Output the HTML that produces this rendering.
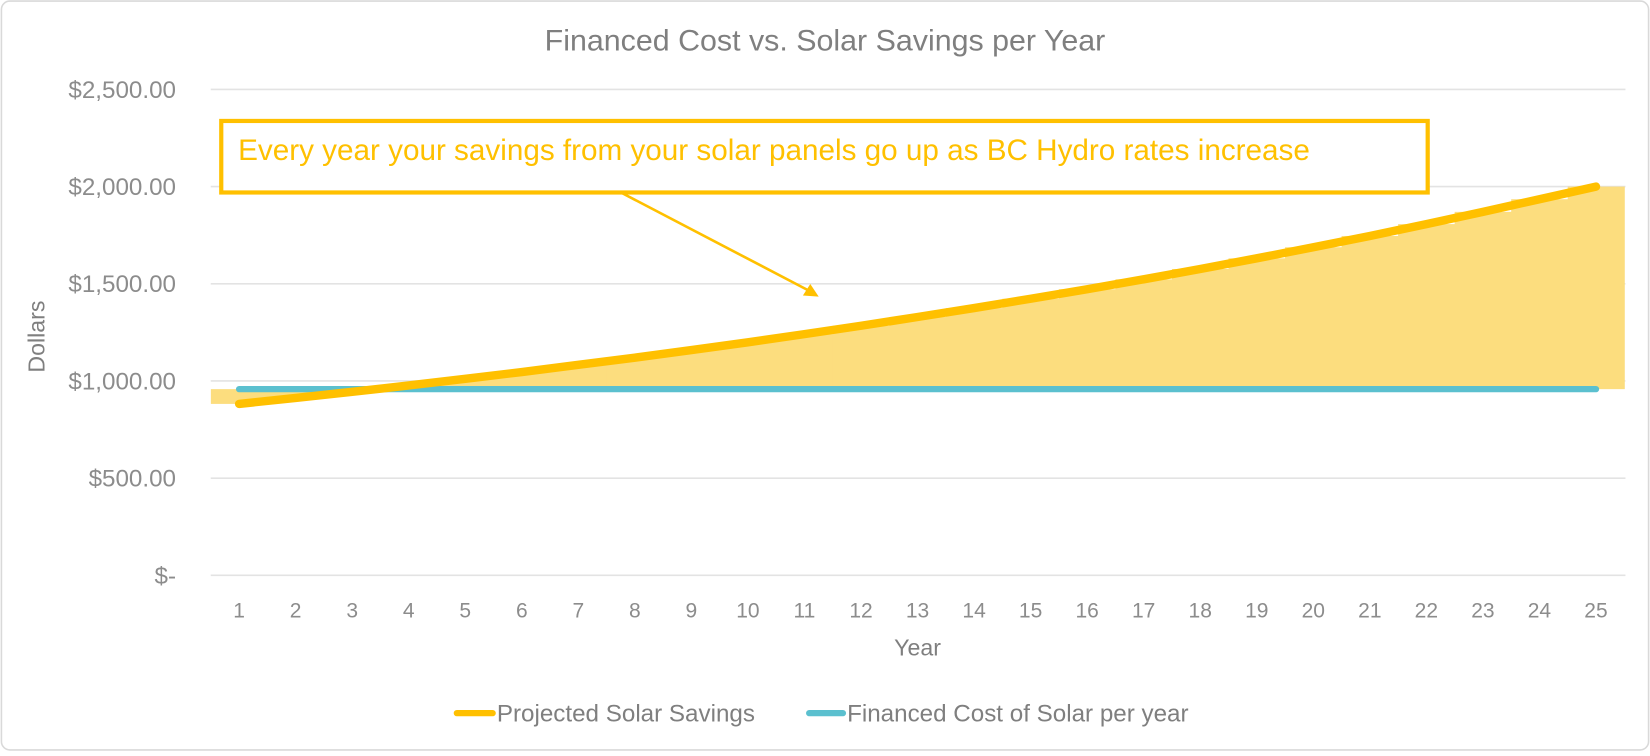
<!DOCTYPE html>
<html><head><meta charset="utf-8"><style>
html,body{margin:0;padding:0;background:#fff;}
svg text{font-family:"Liberation Sans",sans-serif;}
</style></head><body>
<svg width="1650" height="751" viewBox="0 0 1568 714" xmlns="http://www.w3.org/2000/svg">
<rect x="1" y="1" width="1566" height="712" rx="8" fill="#fff" stroke="#d9d9d9" stroke-width="1.5"/>
<text x="784" y="48" text-anchor="middle" font-size="28" fill="#7f7f7f" textLength="533" lengthAdjust="spacingAndGlyphs">Financed Cost vs. Solar Savings per Year</text>
<g id="grid"></g>
<g id="area"></g>
<g id="lines"></g>
<g id="labels"></g>
<text transform="translate(42,320) rotate(-90)" text-anchor="middle" font-size="22" fill="#7f7f7f">Dollars</text>
<text x="872" y="623" text-anchor="middle" font-size="22" fill="#7f7f7f">Year</text>
<rect x="210" y="115" width="1147" height="68" fill="#fff" stroke="#ffc000" stroke-width="4"/>
<text x="226" y="152" font-size="28" fill="#ffc000" textLength="1019" lengthAdjust="spacingAndGlyphs">Every year your savings from your solar panels go up as BC Hydro rates increase</text>
<line x1="590" y1="183" x2="770" y2="277" stroke="#ffc000" stroke-width="2.5"/>
<polygon points="778,282 763,281 770,270" fill="#ffc000"/>
<g>
<line x1="434" y1="678" x2="468" y2="678" stroke="#ffc000" stroke-width="6" stroke-linecap="round"/>
<text x="472" y="686" font-size="23" fill="#7f7f7f">Projected Solar Savings</text>
<line x1="769" y1="678" x2="801" y2="678" stroke="#5bc0cf" stroke-width="6" stroke-linecap="round"/>
<text x="805" y="686" font-size="23" fill="#7f7f7f">Financed Cost of Solar per year</text>
</g>
</svg>
<script>
const years=[1,2,3,4,5,6,7,8,9,10,11,12,13,14,15,16,17,18,19,20,21,22,23,24,25];
const savings=[882,913,944,977,1011,1046,1083,1120,1159,1199,1241,1284,1329,1375,1423,1472,1523,1576,1631,1688,1746,1807,1870,1935,2000];
const cost=[958,958,958,958,958,958,958,958,958,958,958,958,958,958,958,958,958,958,958,958,958,958,958,958,958];
const yTicks=[0,500,1000,1500,2000,2500];
const yTickLabels=["$-","$500.00","$1,000.00","$1,500.00","$2,000.00","$2,500.00"];
const NS="http://www.w3.org/2000/svg";
const x0=227,step=(1517-227)/24,plotL=200,plotR=1545;
function xs(i){return x0+i*step;}
function ys(v){return 547-v*(462/2500);}
function mk(tag,attrs,parent){const e=document.createElementNS(NS,tag);for(const k in attrs)e.setAttribute(k,attrs[k]);document.getElementById(parent).appendChild(e);return e;}
yTicks.forEach((t,i)=>{
 const l=mk('line',{x1:plotL,x2:plotR,y1:ys(t),y2:ys(t),stroke:'#e3e3e3','stroke-width':1.5},'grid');
 
 
 const tx=mk('text',{x:167,y:ys(t)+8,'text-anchor':'end','font-size':23,fill:'#8c8c8c'},'labels');
 tx.textContent=yTickLabels[i];
 
 
});
years.forEach((y,i)=>{
 const tx=mk('text',{x:xs(i),y:587,'text-anchor':'middle','font-size':20,fill:'#8c8c8c'},'labels');
 tx.textContent=y;
 
 
});
years.forEach((y,i)=>{
 const a=Math.max(plotL,xs(i)-step/2),b=Math.min(plotR,xs(i)+step/2);
 const hi=Math.max(savings[i],cost[i]),lo=Math.min(savings[i],cost[i]);
 const r=mk('rect',{x:a,width:b-a+0.5,y:ys(hi),height:ys(lo)-ys(hi),fill:'#fcdd7e'},'area');
 
 
});
const cp=mk('polyline',{points:years.map((y,i)=>xs(i)+','+ys(cost[i])).join(' '),fill:'none',stroke:'#5bc0cf','stroke-width':6,'stroke-linecap':'round'},'lines');


const sp=mk('polyline',{points:years.map((y,i)=>xs(i)+','+ys(savings[i])).join(' '),fill:'none',stroke:'#ffc000','stroke-width':8,'stroke-linecap':'round','stroke-linejoin':'round'},'lines');


</script>
</body></html>
